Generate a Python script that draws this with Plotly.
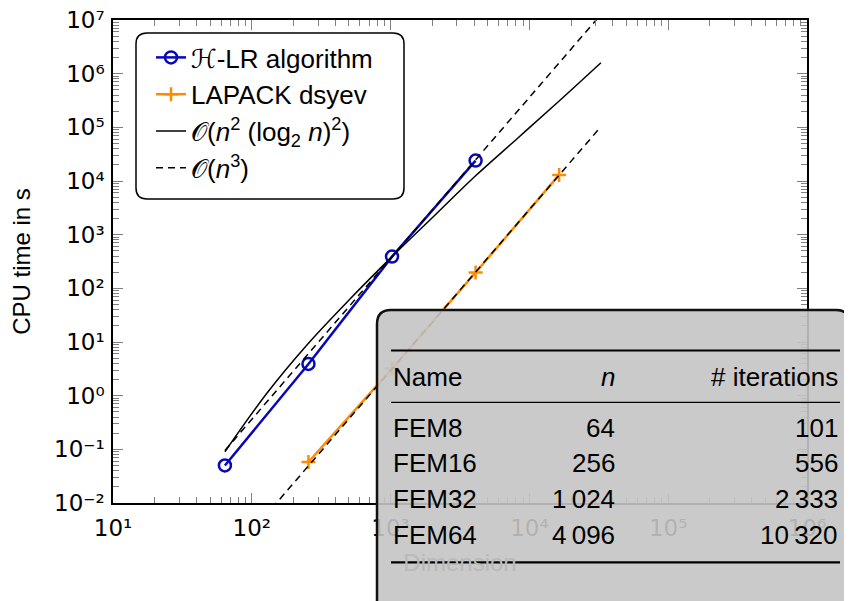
import plotly.graph_objects as go

# ---------------- data ----------------
n_hlr = [64, 256, 1024, 4096]
t_hlr = [0.05, 3.9, 390, 24000]

n_lapack = [256, 1024, 4096, 16384]
t_lapack = [0.058, 3.2, 197, 13000]

n_ref = [64, 128, 256, 512, 1024, 2048, 4096, 8192, 16384, 32768]
t_nlog = [0.09, 1.1, 9.5, 64, 390, 2200, 12500, 62000, 310000, 1.6e6]

n_cube = [64, 32768]
t_cube_hlr = [0.095, 1.27e7]
t_cube_lapack = [7.7e-4, 1.03e5]

x_tick_vals = [1e1, 1e2, 1e3, 1e4, 1e5, 1e6]
x_tick_text = ["10\u00b9", "10\u00b2", "10\u00b3", "10\u2074", "10\u2075", "10\u2076"]
y_tick_vals = [1e-2, 1e-1, 1e0, 1e1, 1e2, 1e3, 1e4, 1e5, 1e6, 1e7]
y_tick_text = ["10\u207b\u00b2", "10\u207b\u00b9", "10\u2070", "10\u00b9", "10\u00b2",
               "10\u00b3", "10\u2074", "10\u2075", "10\u2076", "10\u2077"]

table_header = ["Name", "<i>n</i>", "# iterations"]
table_names = ["FEM8", "FEM16", "FEM32", "FEM64"]
table_n = ["64", "256", "1\u2009024", "4\u2009096"]
table_iters = ["101", "556", "2\u2009333", "10\u2009320"]

# ---------------- styling ----------------
FONT = "Liberation Sans, DejaVu Sans"
TICK_FONT = "DejaVu Sans"
FS_TICK = 23
FS_TITLE = 24
FS_TEXT = 26
BLUE = "#0808b8"
ORANGE = "#ff8c00"

W, H = 852, 601
OFF = 8  # page offset of the figure inside the browser window
PL, PR, PT, PB = 113, 807, 20, 503
ML, MT = PL - OFF, PT - OFF
MR, MB = W - (PR - OFF), H - (PB - OFF)
PW, PH = PR - PL, PB - PT


def px(x):
    return (x - PL) / PW


def py(y):
    return (PB - y) / PH


def rounded_rect(x0, y0, x1, y1, r):
    rx, ry = r / PW, r / PH
    X0, X1 = px(x0), px(x1)
    Y0, Y1 = py(y0), py(y1)
    return (f"M {X0+rx},{Y0} L {X1-rx},{Y0} Q {X1},{Y0} {X1},{Y0-ry} "
            f"L {X1},{Y1+ry} Q {X1},{Y1} {X1-rx},{Y1} "
            f"L {X0+rx},{Y1} Q {X0},{Y1} {X0},{Y1+ry} "
            f"L {X0},{Y0-ry} Q {X0},{Y0} {X0+rx},{Y0} Z")


fig = go.Figure()

fig.add_trace(go.Scatter(
    x=n_hlr, y=t_hlr, mode="lines+markers", name="\u210b-LR algorithm",
    line=dict(color=BLUE, width=2.5),
    marker=dict(symbol="circle-open", size=12, color=BLUE, line=dict(width=2.5)),
    legendgroup="a"))
fig.add_trace(go.Scatter(
    x=n_lapack, y=t_lapack, mode="lines+markers", name="LAPACK dsyev",
    line=dict(color=ORANGE, width=2.5),
    marker=dict(symbol="cross-thin-open", size=10, color=ORANGE, line=dict(width=2.5, color=ORANGE)),
    legendgroup="b"))
fig.add_trace(go.Scatter(
    x=n_ref, y=t_nlog, mode="lines",
    name="\U0001D4AA(<i>n</i><sup>2</sup> (log<sub>2</sub> <i>n</i>)<sup>2</sup>)",
    line=dict(color="black", width=1.5, shape="spline", smoothing=1.0), legendgroup="c"))
fig.add_trace(go.Scatter(
    x=n_cube, y=t_cube_hlr, mode="lines", name="\U0001D4AA(<i>n</i><sup>3</sup>)",
    line=dict(color="black", width=1.5, dash="7px,5px"), legendgroup="d"))
fig.add_trace(go.Scatter(
    x=n_cube, y=t_cube_lapack, mode="lines", showlegend=False,
    line=dict(color="black", width=1.5, dash="7px,5px"), legendgroup="d"))

minor_x = [m * 10 ** e for e in range(1, 6) for m in range(2, 10)]
minor_y = [m * 10.0 ** e for e in range(-2, 7) for m in range(2, 10)]

axis_common = dict(
    type="log", showline=True, linecolor="black", linewidth=1.5, mirror="allticks",
    ticks="inside", ticklen=10, tickcolor="#808080", tickwidth=1.2,
    showgrid=False, zeroline=False, tickmode="array", ticklabeloverflow="allow",
    automargin=False,
    tickfont=dict(family=TICK_FONT, size=FS_TICK, color="black"),
)

fig.update_xaxes(
    **axis_common, range=[1, 6], tickvals=x_tick_vals, ticktext=x_tick_text,
    ticklabelstandoff=4,
    minor=dict(tickmode="array", tickvals=minor_x, ticks="inside", ticklen=6,
               tickcolor="#808080", tickwidth=1.2, showgrid=False),
    title=dict(text="Dimension", font=dict(family=FONT, size=FS_TITLE, color="#b9b9b9"), standoff=14),
)
fig.update_yaxes(
    **axis_common, range=[-2, 7], tickvals=y_tick_vals, ticktext=y_tick_text,
    ticklabelstandoff=2,
    minor=dict(tickmode="array", tickvals=minor_y, ticks="inside", ticklen=6,
               tickcolor="#808080", tickwidth=1.2, showgrid=False),
    title=dict(text="CPU time in s", font=dict(family=FONT, size=FS_TITLE, color="black"), standoff=22),
)

shapes = [
    dict(type="path", xref="paper", yref="paper", path=rounded_rect(136, 33, 404, 199, 11),
         fillcolor="white", line=dict(color="black", width=1.5), layer="above"),
    dict(type="path", xref="paper", yref="paper", path=rounded_rect(377, 310, 850, 650, 14),
         fillcolor="rgba(196,196,196,0.9)", line=dict(color="#111111", width=2.5), layer="above"),
]
for yy, lw in [(350.5, 2.2), (402.3, 1.2), (562.3, 2.2)]:
    shapes.append(dict(type="line", xref="paper", yref="paper", x0=px(391), x1=px(840),
                       y0=py(yy), y1=py(yy), line=dict(color="black", width=lw), layer="above"))

annotations = []
col_x = [391, 617, 840]
col_anchor = ["left", "right", "right"]
row_y = [376.7, 427.7, 463.3, 499.3, 535.0]
rows = [table_header] + [[a, b, c] for a, b, c in zip(table_names, table_n, table_iters)]
for r, row in enumerate(rows):
    for c, txt in enumerate(row):
        annotations.append(dict(
            xref="paper", yref="paper", x=px(col_x[c]), y=py(row_y[r]),
            xanchor=col_anchor[c], yanchor="middle", text=txt, showarrow=False,
            font=dict(family=FONT, size=FS_TEXT, color="black")))

fig.update_layout(
    width=W, height=H,
    margin=dict(l=ML, r=MR, t=MT, b=MB, autoexpand=False),
    paper_bgcolor="white", plot_bgcolor="white",
    font=dict(family=FONT, size=FS_TEXT, color="black"),
    shapes=shapes, annotations=annotations,
    legend=dict(x=px(151), y=py(34), xanchor="left", yanchor="top",
                bgcolor="rgba(0,0,0,0)", borderwidth=0,
                font=dict(family=FONT, size=FS_TEXT, color="black"),
                traceorder="grouped", tracegroupgap=0),
)

fig.write_html("out.html")
